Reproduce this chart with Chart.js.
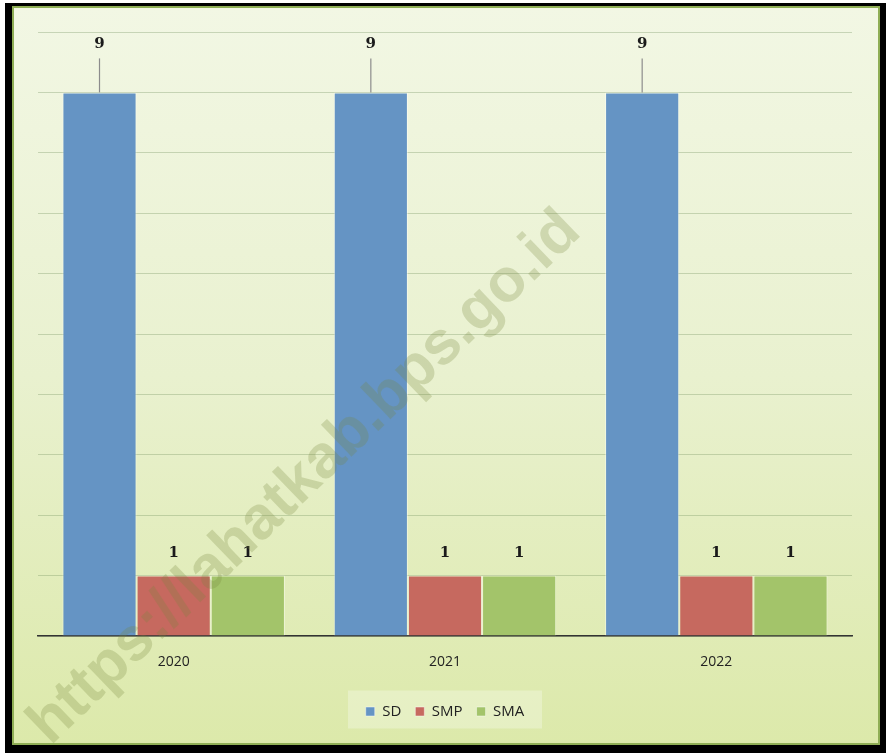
<!DOCTYPE html>
<html>
<head>
<meta charset="utf-8">
<script src="https://cdn.jsdelivr.net/npm/chart.js@4/dist/chart.umd.min.js"></script>
<style>
html,body{margin:0;padding:0;background:#fff;}
#wrap{position:relative;width:886px;height:753px;}
canvas{display:block;}
</style>
</head>
<body>
<div id="wrap"><canvas id="c" width="886" height="753"></canvas></div>
<script>
const categories = ["2020", "2021", "2022"];
const seriesNames = ["SD", "SMP", "SMA"];
const sdValues = [9, 9, 9];
const smpValues = [1, 1, 1];
const smaValues = [1, 1, 1];
const yMax = 10;

const colors = ["#6594c4", "#c6695f", "#a3c46a"];

const framePlugin = {
  id: "frame",
  beforeDraw(chart) {
    const ctx = chart.ctx;
    ctx.save();
    ctx.fillStyle = "#000";
    ctx.fillRect(5, 3, 881, 750);
    const g = ctx.createLinearGradient(0, 6, 0, 745);
    g.addColorStop(0, "#f2f7e4");
    g.addColorStop(0.5, "#e9f1cf");
    g.addColorStop(1, "#dce9aa");
    ctx.fillStyle = g;
    ctx.fillRect(12, 6, 868, 739);
    ctx.strokeStyle = "#8fae55";
    ctx.lineWidth = 2;
    ctx.strokeRect(13, 7, 866, 737);
    const lg = chart.legend;
    if (lg) {
      const cy = lg.top + lg.height / 2;
      ctx.fillStyle = "rgba(255,255,255,0.28)";
      ctx.fillRect(lg.left + lg.width / 2 - 97, cy - 19, 194, 38);
    }
    ctx.restore();
  }
};

const labelPlugin = {
  id: "valueLabels",
  afterDatasetsDraw(chart) {
    const ctx = chart.ctx;
    ctx.save();
    ctx.font = "bold 15px 'DejaVu Serif', 'Liberation Serif', serif";
    ctx.textAlign = "center";
    ctx.textBaseline = "middle";
    chart.data.datasets.forEach((ds, i) => {
      const meta = chart.getDatasetMeta(i);
      const off = ds.labelOffset;
      meta.data.forEach((bar, j) => {
        const x = bar.x;
        const y = bar.y;
        const ly = y - off;
        if (ds.leader) {
          ctx.strokeStyle = "#8c8c8c";
          ctx.lineWidth = 1.2;
          ctx.beginPath();
          ctx.moveTo(x, ly + 14);
          ctx.lineTo(x, y);
          ctx.stroke();
        }
        ctx.fillStyle = "#1a1a1a";
        ctx.fillText(String(ds.data[j]), x, ly);
      });
    });
    ctx.restore();
  },
  afterDraw(chart) {
    const ctx = chart.ctx;
    ctx.save();
    ctx.translate(305, 478);
    ctx.rotate(-Math.PI / 4.1);
    ctx.font = "bold 61px 'Liberation Sans', Arial, sans-serif";
    ctx.fillStyle = "rgba(120,135,60,0.26)";
    ctx.textAlign = "center";
    ctx.textBaseline = "middle";
    ctx.fillText("https://lahatkab.bps.go.id", 0, 0);
    ctx.restore();
  }
};

new Chart(document.getElementById("c"), {
  type: "bar",
  data: {
    labels: categories,
    datasets: [
      { label: seriesNames[0], data: sdValues, backgroundColor: colors[0], borderColor: "rgba(255,255,255,0.45)", borderWidth: 1, labelOffset: 48, leader: true },
      { label: seriesNames[1], data: smpValues, backgroundColor: colors[1], borderColor: "rgba(255,255,255,0.45)", borderWidth: 1, labelOffset: 22, leader: false },
      { label: seriesNames[2], data: smaValues, backgroundColor: colors[2], borderColor: "rgba(255,255,255,0.45)", borderWidth: 1, labelOffset: 22, leader: false }
    ]
  },
  options: {
    responsive: false,
    animation: false,
    layout: { padding: { left: 38, right: 34, top: 32, bottom: 24 } },
    datasets: { bar: { categoryPercentage: 0.82, barPercentage: 1.0 } },
    scales: {
      x: {
        grid: { display: false },
        border: { display: true, color: "#333", width: 1.5 },
        ticks: { color: "#222", font: { family: "'Open Sans', 'Liberation Sans', sans-serif", size: 14 }, padding: 10 },
        afterFit(s) { s.height = 54; }
      },
      y: {
        min: 0, max: yMax,
        ticks: { display: false, stepSize: 1 },
        grid: { color: "rgba(120,150,100,0.35)", lineWidth: 1, drawTicks: false },
        border: { display: false },
        afterFit(s) { s.width = 0; }
      }
    },
    plugins: {
      legend: {
        position: "bottom",
        labels: {
          boxWidth: 9, boxHeight: 9, padding: 14,
          color: "#222",
          font: { family: "'Open Sans', 'Liberation Sans', sans-serif", size: 15 }
        }
      },
      tooltip: { enabled: false }
    }
  },
  plugins: [framePlugin, labelPlugin]
});
</script>
</body>
</html>
